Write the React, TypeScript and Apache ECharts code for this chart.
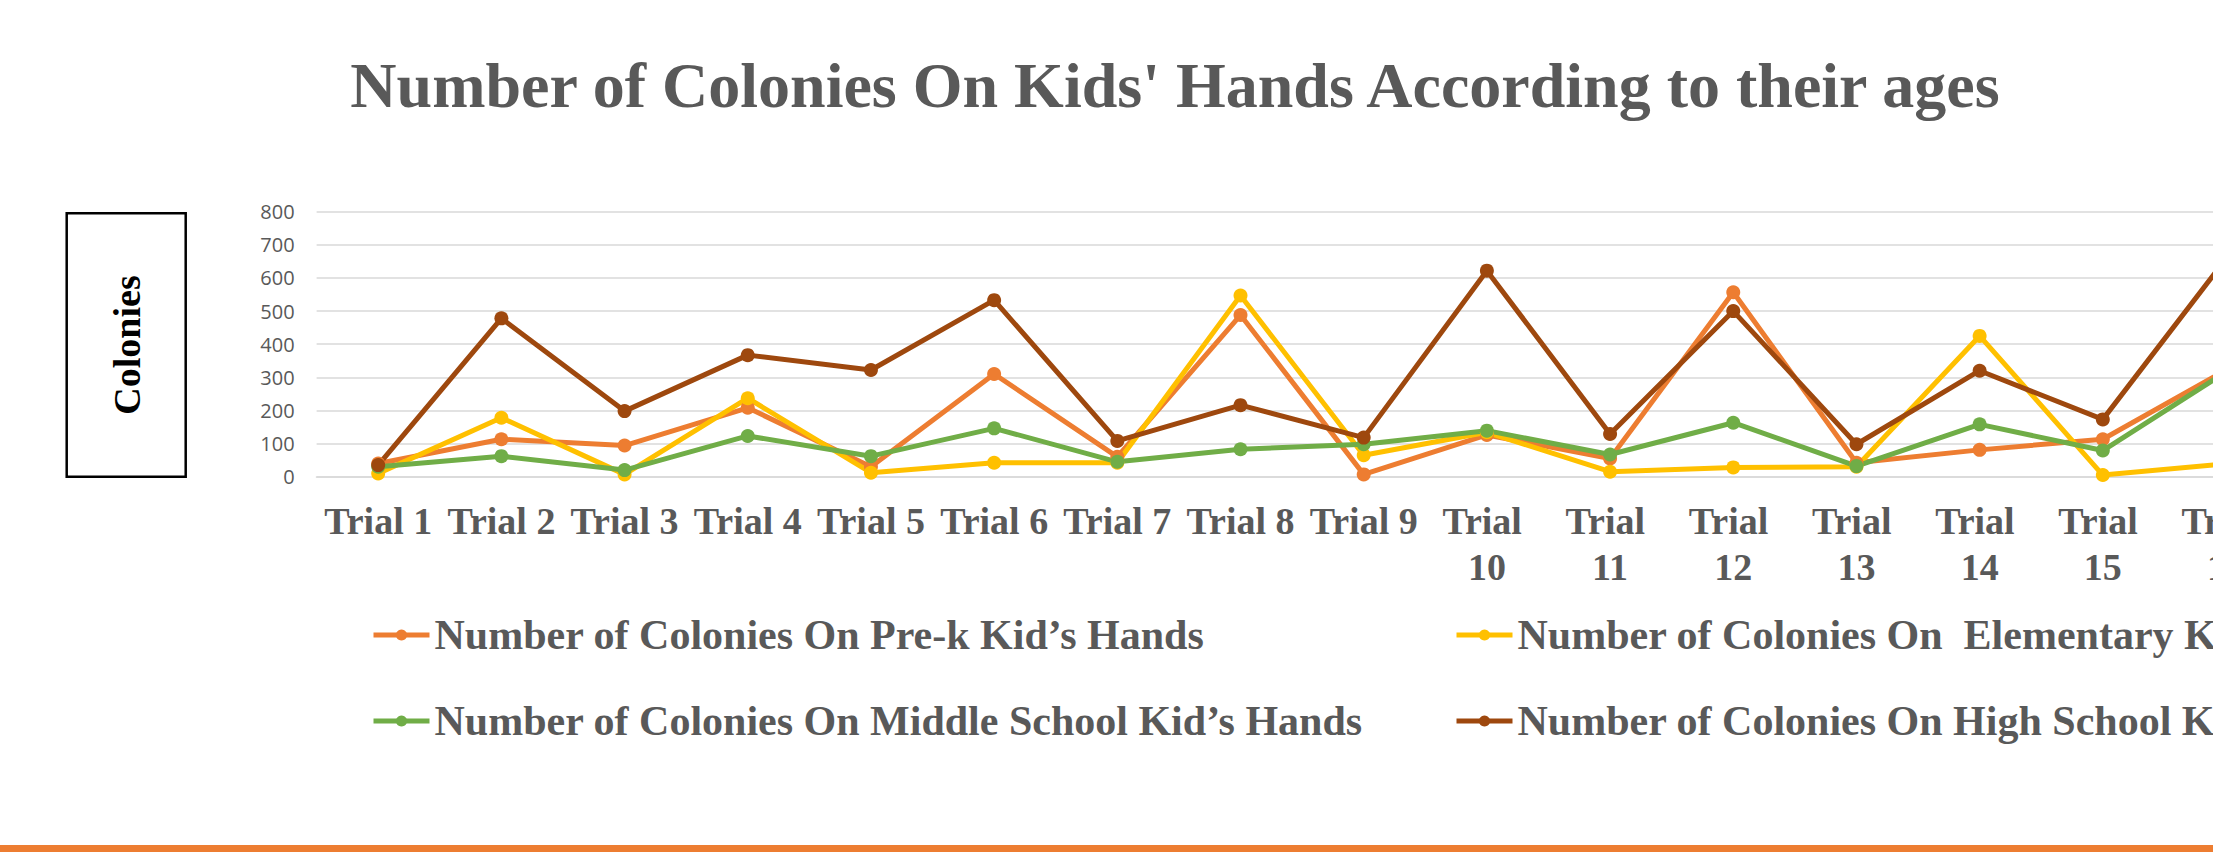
import React, { useEffect, useRef } from "react";
import * as echarts from "echarts";

const categories = [
  "Trial 1", "Trial 2", "Trial 3", "Trial 4", "Trial 5", "Trial 6", "Trial 7", "Trial 8",
  "Trial 9", "Trial 10", "Trial 11", "Trial 12", "Trial 13", "Trial 14", "Trial 15", "Trial 16",
];
const preK = [40, 113, 94, 208, 30, 310, 60, 488, 7, 126, 55, 557, 42, 81, 113, 322];
const elementary = [10, 178, 7, 237, 12, 42, 42, 547, 65, 134, 15, 28, 30, 425, 5, 39];
const middle = [30, 62, 20, 123, 62, 146, 45, 83, 98, 139, 67, 163, 32, 158, 79, 316];
const high = [35, 478, 198, 367, 322, 533, 108, 216, 118, 622, 129, 500, 98, 320, 173, 658];

const seriesNames = [
  "Number of Colonies On Pre-k Kid’s Hands",
  "Number of Colonies On  Elementary Kid’s Hands",
  "Number of Colonies On Middle School Kid’s Hands",
  "Number of Colonies On High School Kid’s Hands",
];
const seriesData = [preK, elementary, middle, high];
const colors = ["#ED7D31", "#FFC000", "#70AD47", "#9E480E"];
const yTicks = { min: 0, max: 800, interval: 100 };

const SERIF = "'Liberation Serif', 'Times New Roman', serif";
const TEXT = "#595959";

export default function App() {
  const ref = useRef<HTMLDivElement>(null);
  useEffect(() => {
    if (!ref.current) return;
    const chart = echarts.init(ref.current, undefined, { renderer: "svg" });
    const legendPos = [
      { left: 371, top: 610 },
      { left: 1454, top: 610 },
      { left: 371, top: 696 },
      { left: 1454, top: 696 },
    ];
    chart.setOption({
      animation: false,
      backgroundColor: "#ffffff",
      title: {
        text: "Number of Colonies On Kids' Hands According to their ages",
        left: "center",
        top: 50,
        padding: 0,
        textStyle: {
          fontFamily: SERIF,
          fontWeight: "bold",
          fontSize: 64,
          lineHeight: 70,
          color: TEXT,
        },
      },
      legend: seriesNames.map((n, i) => ({
        data: [n],
        left: legendPos[i].left,
        top: legendPos[i].top,
        padding: 0,
        itemWidth: 56,
        itemHeight: 14,
        lineStyle: { width: 5 },
        textStyle: {
          fontFamily: SERIF,
          fontWeight: "bold",
          fontSize: 42,
          lineHeight: 50,
          color: TEXT,
        },
      })),
      grid: { left: 316.6, top: 211.7, height: 265, width: 1971, containLabel: false },
      xAxis: {
        type: "category",
        data: categories,
        boundaryGap: true,
        axisLine: { lineStyle: { color: "#D9D9D9", width: 1.7 } },
        axisTick: { show: false },
        axisLabel: {
          interval: 0,
          margin: 21,
          fontFamily: SERIF,
          fontWeight: "bold",
          fontSize: 38,
          lineHeight: 46,
          color: TEXT,
          width: 123,
          overflow: "break",
        },
      },
      yAxis: {
        type: "value",
        min: yTicks.min,
        max: yTicks.max,
        interval: yTicks.interval,
        axisLine: { show: false },
        axisTick: { show: false },
        splitLine: { lineStyle: { color: "#D9D9D9", width: 1.7 } },
        axisLabel: {
          margin: 22,
          fontFamily: "'Open Sans', 'Liberation Sans', sans-serif",
          fontSize: 20,
          color: TEXT,
        },
      },
      series: seriesNames.map((n, i) => ({
        name: n,
        type: "line",
        data: seriesData[i],
        symbol: "circle",
        symbolSize: 14,
        color: colors[i],
        lineStyle: { width: 5, color: colors[i] },
        itemStyle: { color: colors[i] },
      })),
      graphic: [
        {
          type: "rect",
          shape: { x: 66.7, y: 213.3, width: 119, height: 263.4 },
          style: { fill: "#ffffff", stroke: "#000000", lineWidth: 2.5 },
        },
        {
          type: "text",
          x: 126.7,
          y: 345,
          rotation: Math.PI / 2,
          style: {
            text: "Colonies",
            fontFamily: SERIF,
            fontWeight: "bold",
            fontSize: 38,
            fill: "#000000",
            align: "center",
            verticalAlign: "middle",
          },
        },
        {
          type: "rect",
          shape: { x: 0, y: 845, width: 2400, height: 7 },
          style: { fill: "#ED7D31" },
        },
      ],
    });
    return () => chart.dispose();
  }, []);
  return (
    <div style={{ position: "fixed", left: 0, top: 0, width: "100vw", height: "100vh", overflow: "hidden", background: "#fff" }}>
      <div ref={ref} style={{ width: 2350, height: 852 }} />
    </div>
  );
}
